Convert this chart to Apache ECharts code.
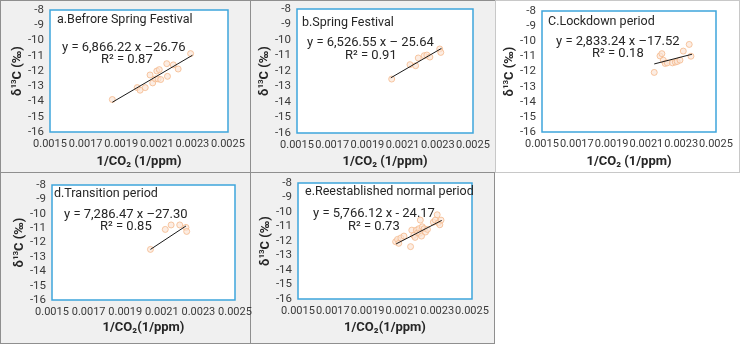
<!DOCTYPE html>
<html>
<head>
<meta charset="utf-8">
<script src="https://cdn.jsdelivr.net/npm/echarts@6/dist/echarts.min.js"></script>
<style>
  html, body { margin: 0; padding: 0; background: #fff; }
  .wrap { position: relative; width: 740px; height: 345px; overflow: hidden; }
  .panel { position: absolute; box-sizing: border-box; border: 1px solid #8f8f8f; background: #f0f0f0; }
  #main { position: absolute; left: 0; top: 0; width: 740px; height: 345px; }
</style>
</head>
<body>
<div class="wrap">
  <div class="panel" style="left:0;top:0;width:251px;height:173px;"></div>
  <div class="panel" style="left:250px;top:0;width:246px;height:173px;"></div>
  <div class="panel" style="left:495px;top:0;width:245px;height:173px;background:#fff;border-color:#c8c8c8;"></div>
  <div class="panel" style="left:0;top:172px;width:251px;height:172px;"></div>
  <div class="panel" style="left:250px;top:172px;width:245px;height:172px;"></div>
  <div id="main"></div>
</div>
<script>
// scatter points: [1/CO2, d13C]
const ptsA = [[0.00185, -13.87], [0.00199, -13.09], [0.002006, -13.26], [0.002035, -13.09],
  [0.002062, -12.26], [0.002077, -12.78], [0.002092, -12.52], [0.0021, -12.0], [0.002107, -12.52],
  [0.002114, -11.91], [0.002122, -12.56], [0.002156, -11.52], [0.00216, -12.35], [0.002193, -11.6],
  [0.00222, -11.87], [0.00229, -10.86]]
const ptsB = [[0.002038, -12.52], [0.002142, -11.59], [0.002174, -11.66], [0.002189, -11.16],
  [0.002223, -11.01], [0.002238, -10.97], [0.002255, -11.1], [0.002311, -10.58], [0.002317, -10.8]]
const ptsC = [[0.002145, -12.06], [0.002178, -10.97], [0.002189, -10.82], [0.002197, -11.25],
  [0.002208, -11.47], [0.00222, -11.43], [0.00225, -11.43], [0.002266, -11.38], [0.002277, -11.34],
  [0.002293, -11.25], [0.002312, -10.65], [0.002346, -10.21], [0.002356, -10.99]]
const ptsD = [[0.002038, -12.48], [0.002119, -11.09], [0.002151, -10.78], [0.002198, -10.78],
  [0.002232, -10.95], [0.002236, -11.23]]
const ptsE = [[0.002061, -12.05], [0.002072, -11.89], [0.002079, -12.16], [0.002091, -11.79],
  [0.002109, -11.66], [0.002147, -12.39], [0.002154, -11.25], [0.002165, -11.61], [0.002173, -11.75],
  [0.00218, -11.25], [0.002188, -11.43], [0.002195, -11.15], [0.002199, -11.47], [0.002203, -10.56],
  [0.00221, -11.66], [0.002214, -11.02], [0.002225, -11.15], [0.002233, -11.38], [0.002244, -11.2],
  [0.002278, -10.7], [0.002289, -10.56], [0.0023, -10.19], [0.002307, -10.74], [0.002315, -10.88],
  [0.002322, -10.56]]

// trend line end points
const fitA = [[0.00185, -14.05], [0.0023, -10.97]]
const fitB = [[0.002033, -12.44], [0.002321, -10.54]]
const fitC = [[0.002145, -11.5], [0.002362, -10.86]]
const fitD = [[0.002038, -12.48], [0.002232, -10.85]]
const fitE = [[0.002064, -12.2], [0.002326, -10.58]]

const panelTitles = ['a.Befrore Spring Festival', 'b.Spring Festival', 'C.Lockdown period',
  'd.Transition period', 'e.Reestablished normal period']
const equations = ['y = 6,866.22 x \u201326.76', 'y = 6,526.55 x \u2013 25.64', 'y = 2,833.24 x \u201317.52',
  'y = 7,286.47 x \u201327.30', 'y = 5,766.12 x - 24.17']
const r2Labels = ['R\u00b2 = 0.87', 'R\u00b2 = 0.91', 'R\u00b2 = 0.18', 'R\u00b2 = 0.85', 'R\u00b2 = 0.73']
const xTitles = ['1/CO\u2082 (1/ppm)', '1/CO\u2082 (1/ppm)', '1/CO\u2082 (1/ppm)', '1/CO\u2082(1/ppm)', '1/CO\u2082(1/ppm)']

const points = [ptsA, ptsB, ptsC, ptsD, ptsE]
const fits = [fitA, fitB, fitC, fitD, fitE]

const FONT = 'Roboto, sans-serif'

// panel layout
const grids = [
  {left: 50, top: 10, width: 178, height: 122},
  {left: 297, top: 9, width: 176, height: 124},
  {left: 542, top: 11, width: 174, height: 121},
  {left: 52, top: 185, width: 183, height: 115},
  {left: 298, top: 183, width: 174, height: 116}
]
const nameGapX = [23, 22, 23, 21, 22]
const nameGapY = [22, 25, 23, 22, 25]
const textPos = [
  {t: [57, 13], e: [62, 41], r: [101, 53]},
  {t: [302, 16], e: [307, 36], r: [345, 49]},
  {t: [548, 15], e: [556, 35], r: [592, 47]},
  {t: [54, 187], e: [64, 208], r: [100, 220]},
  {t: [305, 185], e: [313, 207], r: [348, 220]}
]

const chart = echarts.init(document.getElementById('main'))

const titles = []
textPos.forEach((p, i) => {
  titles.push({text: panelTitles[i], left: p.t[0], top: p.t[1], padding: 0,
    textStyle: {fontFamily: FONT, fontSize: 12.5, fontWeight: 'normal', color: '#262626'}})
  titles.push({text: equations[i], left: p.e[0], top: p.e[1], padding: 0,
    textStyle: {fontFamily: FONT, fontSize: 13, fontWeight: 'normal', color: '#262626'}})
  titles.push({text: r2Labels[i], left: p.r[0], top: p.r[1], padding: 0,
    textStyle: {fontFamily: FONT, fontSize: 13, fontWeight: 'normal', color: '#262626'}})
})

const xAxes = grids.map((g, i) => ({
  type: 'value', gridIndex: i, min: 0.0015, max: 0.0025, interval: 0.0002,
  name: xTitles[i], nameLocation: 'middle', nameGap: nameGapX[i],
  nameTextStyle: {fontFamily: FONT, fontSize: 13, fontWeight: 'bold', color: '#262626'},
  axisLine: {show: false}, axisTick: {show: false}, splitLine: {show: false},
  axisLabel: {fontFamily: FONT, fontSize: 11, color: '#3a3a3a', margin: 7,
    formatter: v => v.toFixed(4)}
}))

const yAxes = grids.map((g, i) => ({
  type: 'value', gridIndex: i, min: -16, max: -8, interval: 1,
  name: '{b|\u03b4}{s|13}{b|C (\u2030)}', nameLocation: 'middle', nameGap: nameGapY[i], nameRotate: 90,
  nameTextStyle: {
    rich: {
      b: {fontFamily: FONT, fontSize: 13, fontWeight: 'bold', color: '#262626'},
      s: {fontFamily: FONT, fontSize: 8, fontWeight: 'bold', color: '#262626', padding: [0, 0, 6, 0]}
    }
  },
  axisLine: {show: false}, axisTick: {show: false}, splitLine: {show: false},
  axisLabel: {fontFamily: FONT, fontSize: 11.5, color: '#3a3a3a', margin: 6}
}))

const series = []
points.forEach((pts, i) => {
  series.push({
    type: 'scatter', xAxisIndex: i, yAxisIndex: i, data: pts, symbolSize: 6,
    itemStyle: {color: 'rgba(251,229,214,0.85)', borderColor: '#f5b98c', borderWidth: 1}
  })
  series.push({
    type: 'line', xAxisIndex: i, yAxisIndex: i, data: fits[i], symbol: 'none',
    lineStyle: {color: '#1a1a1a', width: 1}, z: 3
  })
})

chart.setOption({
  animation: false,
  backgroundColor: 'transparent',
  title: titles,
  grid: grids.map(g => Object.assign({show: true, backgroundColor: '#fff', borderColor: '#3ea5dc', borderWidth: 1.5}, g)),
  xAxis: xAxes,
  yAxis: yAxes,
  series: series
})
</script>
</body>
</html>
